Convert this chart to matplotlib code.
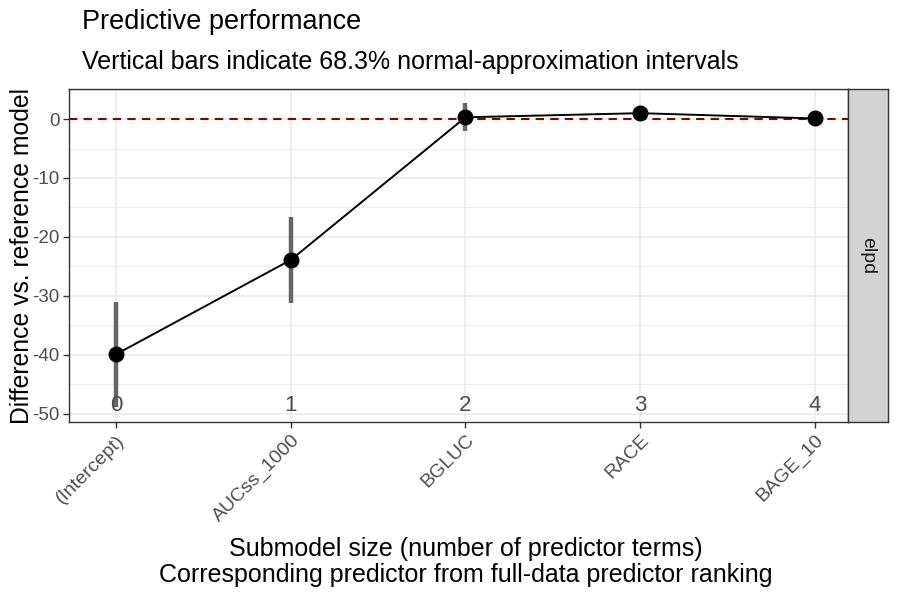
import matplotlib
matplotlib.use('Agg')
import matplotlib.pyplot as plt

plt.rcParams['font.family'] = ['Liberation Sans', 'DejaVu Sans']

sizes = [0, 1, 2, 3, 4]
predictors = ['(Intercept)', 'AUCss_1000', 'BGLUC', 'RACE', 'BAGE_10']
diff = [-39.9, -23.9, 0.3, 1.0, 0.1]
se = [8.9, 7.3, 2.4, 0.7, 0.3]

fig = plt.figure(figsize=(9, 6), dpi=100)
ax = fig.add_axes([69/900, 1 - 422/600, (848-69)/900, (422-89)/600])
strip = fig.add_axes([848/900, 1 - 422/600, 40/900, (422-89)/600])

# grid
for y in [-45, -35, -25, -15, -5, 5]:
    ax.axhline(y, color='#ebebeb', lw=0.6, zorder=0)
for y in [-50, -40, -30, -20, -10, 0]:
    ax.axhline(y, color='#ebebeb', lw=1.2, zorder=0)
for x in sizes:
    ax.axvline(x, color='#ebebeb', lw=1.2, zorder=0)

ax.axhline(0, color='darkred', lw=1.5, ls=(0, (4, 3)), zorder=1)

lo = [d - s for d, s in zip(diff, se)]
hi = [d + s for d, s in zip(diff, se)]
ax.vlines(sizes, lo, hi, color='#666666', lw=3.2, zorder=2)
ax.plot(sizes, diff, color='black', lw=1.4, zorder=3)
ax.scatter(sizes, diff, s=110, color='black', zorder=4)

for x in sizes:
    ax.text(x, -48.6, str(x), ha='center', va='center', fontsize=16, color='#4d4d4d', zorder=5)

ax.set_xlim(-0.27, 4.19)
ax.set_ylim(-51.4, 5.1)
ax.set_yticks([-50, -40, -30, -20, -10, 0])
ax.set_yticklabels(['-50', '-40', '-30', '-20', '-10', '0'], fontsize=13.5, color='#4d4d4d')
ax.set_xticks(sizes)
ax.set_xticklabels(predictors, rotation=45, ha='right', rotation_mode='anchor',
                   fontsize=14, color='#4d4d4d')
ax.tick_params(length=4, color='#333333', width=1)
ax.tick_params(axis='x', pad=3)
ax.tick_params(axis='y', pad=3)
for sp in ax.spines.values():
    sp.set_color('#333333')
    sp.set_linewidth(1)

ax.set_ylabel('Difference vs. reference model', fontsize=17.8)
ax.yaxis.set_label_coords(-35/779, 0.5)
ax.set_xlabel('Submodel size (number of predictor terms)\nCorresponding predictor from full-data predictor ranking',
              fontsize=18, linespacing=1.1)
ax.xaxis.set_label_coords((466-69)/779, -(537-422)/333)
ax.xaxis.label.set_va('top')

strip.set_facecolor('#d3d3d3')
strip.set_xticks([])
strip.set_yticks([])
for sp in strip.spines.values():
    sp.set_color('#333333')
    sp.set_linewidth(1)
strip.text(0.5, 0.5, 'elpd', rotation=-90, ha='center', va='center',
           fontsize=14, color='#1a1a1a', transform=strip.transAxes)

fig.text(82/900, 1 - 22/600, 'Predictive performance', fontsize=19.5, va='center', ha='left')
fig.text(82/900, 1 - 62/600, 'Vertical bars indicate 68.3% normal-approximation intervals',
         fontsize=18, va='center', ha='left')

fig.savefig('out.png', dpi=100)
